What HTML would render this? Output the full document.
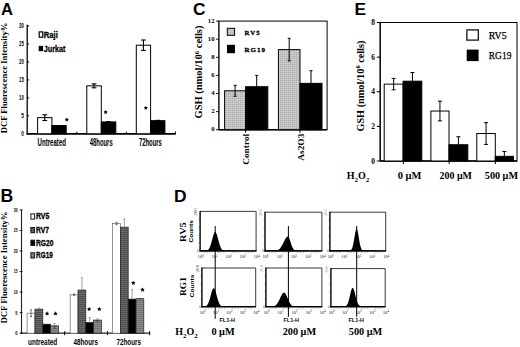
<!DOCTYPE html>
<html><head><meta charset="utf-8"><title>Figure</title>
<style>html,body{margin:0;padding:0;background:#fff;} svg{display:block;}</style>
</head><body>
<svg width="520" height="347" viewBox="0 0 520 347">
<defs>
<pattern id="pc" width="2" height="2" patternUnits="userSpaceOnUse"><rect width="2" height="2" fill="#c9c9c9"/><rect width="1" height="1" fill="#a9a9a9"/></pattern>
<pattern id="p7" width="2" height="2" patternUnits="userSpaceOnUse"><rect width="2" height="2" fill="#6a6a6a"/><rect width="2" height="1" fill="#4e4e4e"/></pattern>
<pattern id="p19" width="2" height="2" patternUnits="userSpaceOnUse"><rect width="2" height="2" fill="#8e8e8e"/><rect width="2" height="1" fill="#727272"/></pattern>
</defs>
<rect x="0" y="0" width="520" height="347" fill="#fff"/>
<text x="0.90" y="14.60" font-family='"Liberation Sans", sans-serif' font-weight="bold" font-size="16.6" text-anchor="start" fill="#000" >A</text>
<text x="7.00" y="133.20" font-family='"Liberation Serif", serif' font-weight="bold" font-size="8.2" text-anchor="start" fill="#000" textLength="110.60" lengthAdjust="spacingAndGlyphs" transform="rotate(-90 7.00 133.20)" >DCF Fluorescence Intensity%</text>
<line x1="27.20" y1="24.80" x2="27.20" y2="134.40" stroke="#000" stroke-width="1.3" />
<line x1="26.60" y1="133.80" x2="175.80" y2="133.80" stroke="#000" stroke-width="1.7" />
<line x1="27.20" y1="133.80" x2="29.20" y2="133.80" stroke="#000" stroke-width="1" />
<text x="23.80" y="136.20" font-family='"Liberation Sans", sans-serif' font-weight="bold" font-size="6.8" text-anchor="end" fill="#000" textLength="2.60" lengthAdjust="spacingAndGlyphs" >0</text>
<line x1="27.20" y1="115.83" x2="29.20" y2="115.83" stroke="#000" stroke-width="1" />
<text x="23.80" y="118.23" font-family='"Liberation Sans", sans-serif' font-weight="bold" font-size="6.8" text-anchor="end" fill="#000" textLength="2.60" lengthAdjust="spacingAndGlyphs" >5</text>
<line x1="27.20" y1="97.87" x2="29.20" y2="97.87" stroke="#000" stroke-width="1" />
<text x="23.80" y="100.27" font-family='"Liberation Sans", sans-serif' font-weight="bold" font-size="6.8" text-anchor="end" fill="#000" textLength="4.80" lengthAdjust="spacingAndGlyphs" >10</text>
<line x1="27.20" y1="79.90" x2="29.20" y2="79.90" stroke="#000" stroke-width="1" />
<text x="23.80" y="82.30" font-family='"Liberation Sans", sans-serif' font-weight="bold" font-size="6.8" text-anchor="end" fill="#000" textLength="4.80" lengthAdjust="spacingAndGlyphs" >15</text>
<line x1="27.20" y1="61.93" x2="29.20" y2="61.93" stroke="#000" stroke-width="1" />
<text x="23.80" y="64.33" font-family='"Liberation Sans", sans-serif' font-weight="bold" font-size="6.8" text-anchor="end" fill="#000" textLength="4.80" lengthAdjust="spacingAndGlyphs" >20</text>
<line x1="27.20" y1="43.97" x2="29.20" y2="43.97" stroke="#000" stroke-width="1" />
<text x="23.80" y="46.37" font-family='"Liberation Sans", sans-serif' font-weight="bold" font-size="6.8" text-anchor="end" fill="#000" textLength="4.80" lengthAdjust="spacingAndGlyphs" >25</text>
<line x1="27.20" y1="26.00" x2="29.20" y2="26.00" stroke="#000" stroke-width="1" />
<text x="23.80" y="28.40" font-family='"Liberation Sans", sans-serif' font-weight="bold" font-size="6.8" text-anchor="end" fill="#000" textLength="4.80" lengthAdjust="spacingAndGlyphs" >30</text>
<line x1="76.80" y1="131.80" x2="76.80" y2="133.80" stroke="#000" stroke-width="1" />
<line x1="126.30" y1="131.80" x2="126.30" y2="133.80" stroke="#000" stroke-width="1" />
<line x1="175.40" y1="131.40" x2="175.40" y2="133.80" stroke="#000" stroke-width="1" />
<rect x="39.20" y="31.90" width="3.60" height="5.30" fill="#fff" stroke="#000" stroke-width="1.2" />
<text x="43.80" y="37.80" font-family='"Liberation Sans", sans-serif' font-weight="bold" font-size="9.2" text-anchor="start" fill="#000" textLength="14.00" lengthAdjust="spacingAndGlyphs" stroke="#000" stroke-width="0.3">Raji</text>
<rect x="38.70" y="45.90" width="4.40" height="5.30" fill="#000" stroke="none" stroke-width="0" />
<text x="43.80" y="51.80" font-family='"Liberation Sans", sans-serif' font-weight="bold" font-size="9.2" text-anchor="start" fill="#000" textLength="21.60" lengthAdjust="spacingAndGlyphs" stroke="#000" stroke-width="0.3">Jurkat</text>
<rect x="37.60" y="117.63" width="14.30" height="16.17" fill="#fff" stroke="#000" stroke-width="1.0" />
<line x1="44.75" y1="114.76" x2="44.75" y2="120.50" stroke="#000" stroke-width="1.1" />
<line x1="42.35" y1="114.76" x2="47.15" y2="114.76" stroke="#000" stroke-width="1.1" />
<line x1="42.35" y1="120.50" x2="47.15" y2="120.50" stroke="#000" stroke-width="1.1" />
<rect x="51.90" y="125.54" width="14.30" height="8.26" fill="#000" stroke="#000" stroke-width="1.0" />
<rect x="86.80" y="85.83" width="14.50" height="47.97" fill="#fff" stroke="#000" stroke-width="1.0" />
<line x1="94.05" y1="83.85" x2="94.05" y2="87.81" stroke="#000" stroke-width="1.1" />
<line x1="91.65" y1="83.85" x2="96.45" y2="83.85" stroke="#000" stroke-width="1.1" />
<line x1="91.65" y1="87.81" x2="96.45" y2="87.81" stroke="#000" stroke-width="1.1" />
<rect x="101.30" y="121.94" width="14.50" height="11.86" fill="#000" stroke="#000" stroke-width="1.0" />
<line x1="108.55" y1="121.58" x2="108.55" y2="122.30" stroke="#000" stroke-width="1.1" />
<line x1="106.15" y1="121.58" x2="110.95" y2="121.58" stroke="#000" stroke-width="1.1" />
<line x1="106.15" y1="122.30" x2="110.95" y2="122.30" stroke="#000" stroke-width="1.1" />
<rect x="136.30" y="45.22" width="14.30" height="88.58" fill="#fff" stroke="#000" stroke-width="1.0" />
<line x1="143.45" y1="40.01" x2="143.45" y2="50.43" stroke="#000" stroke-width="1.1" />
<line x1="141.05" y1="40.01" x2="145.85" y2="40.01" stroke="#000" stroke-width="1.1" />
<line x1="141.05" y1="50.43" x2="145.85" y2="50.43" stroke="#000" stroke-width="1.1" />
<rect x="150.60" y="120.68" width="14.30" height="13.12" fill="#000" stroke="#000" stroke-width="1.0" />
<line x1="157.75" y1="120.33" x2="157.75" y2="121.04" stroke="#000" stroke-width="1.1" />
<line x1="155.35" y1="120.33" x2="160.15" y2="120.33" stroke="#000" stroke-width="1.1" />
<line x1="155.35" y1="121.04" x2="160.15" y2="121.04" stroke="#000" stroke-width="1.1" />
<polygon points="66.80,117.50 67.45,118.81 68.89,119.02 67.85,120.04 68.09,121.48 66.80,120.80 65.51,121.48 65.75,120.04 64.71,119.02 66.15,118.81" fill="#000"/>
<polygon points="105.60,110.00 106.25,111.31 107.69,111.52 106.65,112.54 106.89,113.98 105.60,113.30 104.31,113.98 104.55,112.54 103.51,111.52 104.95,111.31" fill="#000"/>
<polygon points="145.80,105.70 146.45,107.01 147.89,107.22 146.85,108.24 147.09,109.68 145.80,109.00 144.51,109.68 144.75,108.24 143.71,107.22 145.15,107.01" fill="#000"/>
<text x="51.80" y="145.60" font-family='"Liberation Sans", sans-serif' font-weight="bold" font-size="10.2" text-anchor="middle" fill="#000" textLength="28.40" lengthAdjust="spacingAndGlyphs" >Untreated</text>
<text x="101.20" y="145.60" font-family='"Liberation Sans", sans-serif' font-weight="bold" font-size="10.2" text-anchor="middle" fill="#000" textLength="23.00" lengthAdjust="spacingAndGlyphs" >48hours</text>
<text x="150.40" y="145.60" font-family='"Liberation Sans", sans-serif' font-weight="bold" font-size="10.2" text-anchor="middle" fill="#000" textLength="23.00" lengthAdjust="spacingAndGlyphs" >72hours</text>
<text x="0.50" y="201.50" font-family='"Liberation Sans", sans-serif' font-weight="bold" font-size="17.6" text-anchor="start" fill="#000" >B</text>
<text x="7.30" y="323.60" font-family='"Liberation Serif", serif' font-weight="bold" font-size="8.2" text-anchor="start" fill="#000" textLength="112.00" lengthAdjust="spacingAndGlyphs" transform="rotate(-90 7.30 323.60)" >DCF Fluorescence Intensity%</text>
<line x1="21.50" y1="209.80" x2="21.50" y2="333.80" stroke="#222" stroke-width="1.1" />
<line x1="20.60" y1="333.20" x2="149.90" y2="333.20" stroke="#222" stroke-width="1.2" />
<line x1="19.70" y1="333.20" x2="22.40" y2="333.20" stroke="#000" stroke-width="0.9" />
<text x="17.60" y="335.10" font-family='"Liberation Sans", sans-serif' font-weight="bold" font-size="5.6" text-anchor="end" fill="#000" textLength="2.30" lengthAdjust="spacingAndGlyphs" >0</text>
<line x1="19.70" y1="312.65" x2="22.40" y2="312.65" stroke="#000" stroke-width="0.9" />
<text x="17.60" y="314.55" font-family='"Liberation Sans", sans-serif' font-weight="bold" font-size="5.6" text-anchor="end" fill="#000" textLength="2.30" lengthAdjust="spacingAndGlyphs" >5</text>
<line x1="19.70" y1="292.10" x2="22.40" y2="292.10" stroke="#000" stroke-width="0.9" />
<text x="17.60" y="294.00" font-family='"Liberation Sans", sans-serif' font-weight="bold" font-size="5.6" text-anchor="end" fill="#000" textLength="3.90" lengthAdjust="spacingAndGlyphs" >10</text>
<line x1="19.70" y1="271.55" x2="22.40" y2="271.55" stroke="#000" stroke-width="0.9" />
<text x="17.60" y="273.45" font-family='"Liberation Sans", sans-serif' font-weight="bold" font-size="5.6" text-anchor="end" fill="#000" textLength="3.90" lengthAdjust="spacingAndGlyphs" >15</text>
<line x1="19.70" y1="251.00" x2="22.40" y2="251.00" stroke="#000" stroke-width="0.9" />
<text x="17.60" y="252.90" font-family='"Liberation Sans", sans-serif' font-weight="bold" font-size="5.6" text-anchor="end" fill="#000" textLength="3.90" lengthAdjust="spacingAndGlyphs" >20</text>
<line x1="19.70" y1="230.45" x2="22.40" y2="230.45" stroke="#000" stroke-width="0.9" />
<text x="17.60" y="232.35" font-family='"Liberation Sans", sans-serif' font-weight="bold" font-size="5.6" text-anchor="end" fill="#000" textLength="3.90" lengthAdjust="spacingAndGlyphs" >25</text>
<line x1="19.70" y1="209.90" x2="22.40" y2="209.90" stroke="#000" stroke-width="0.9" />
<text x="17.60" y="211.80" font-family='"Liberation Sans", sans-serif' font-weight="bold" font-size="5.6" text-anchor="end" fill="#000" textLength="3.90" lengthAdjust="spacingAndGlyphs" >30</text>
<line x1="64.70" y1="331.20" x2="64.70" y2="335.20" stroke="#000" stroke-width="1" />
<line x1="107.40" y1="331.20" x2="107.40" y2="335.20" stroke="#000" stroke-width="1" />
<line x1="149.70" y1="331.20" x2="149.70" y2="335.20" stroke="#000" stroke-width="1" />
<rect x="30.90" y="213.90" width="3.70" height="5.20" fill="#fff" stroke="#111" stroke-width="1.0" />
<text x="36.00" y="219.10" font-family='"Liberation Sans", sans-serif' font-weight="bold" font-size="8.6" text-anchor="start" fill="#000" textLength="13.20" lengthAdjust="spacingAndGlyphs" stroke="#000" stroke-width="0.3">RV5</text>
<rect x="30.90" y="227.50" width="3.70" height="5.20" fill="url(#p7)" stroke="#111" stroke-width="1.0" />
<text x="36.00" y="233.00" font-family='"Liberation Sans", sans-serif' font-weight="bold" font-size="8.6" text-anchor="start" fill="#000" textLength="13.00" lengthAdjust="spacingAndGlyphs" stroke="#000" stroke-width="0.3">RV7</text>
<rect x="30.90" y="240.20" width="3.70" height="5.20" fill="#000" stroke="#111" stroke-width="1.0" />
<text x="36.00" y="245.80" font-family='"Liberation Sans", sans-serif' font-weight="bold" font-size="8.6" text-anchor="start" fill="#000" textLength="17.40" lengthAdjust="spacingAndGlyphs" stroke="#000" stroke-width="0.3">RG20</text>
<rect x="30.90" y="252.80" width="3.70" height="5.20" fill="url(#p19)" stroke="#111" stroke-width="1.0" />
<text x="36.00" y="258.30" font-family='"Liberation Sans", sans-serif' font-weight="bold" font-size="8.6" text-anchor="start" fill="#000" textLength="16.80" lengthAdjust="spacingAndGlyphs" stroke="#000" stroke-width="0.3">RG19</text>
<rect x="27.10" y="313.18" width="7.85" height="20.02" fill="#fff" stroke="#666" stroke-width="0.7" />
<line x1="31.03" y1="309.90" x2="31.03" y2="313.18" stroke="#555" stroke-width="0.8" />
<line x1="30.03" y1="309.90" x2="32.03" y2="309.90" stroke="#555" stroke-width="0.8" />
<line x1="31.03" y1="313.18" x2="31.03" y2="316.47" stroke="#444" stroke-width="0.8" />
<line x1="30.03" y1="316.47" x2="32.03" y2="316.47" stroke="#444" stroke-width="0.8" />
<rect x="34.95" y="309.16" width="7.85" height="24.04" fill="url(#p7)" stroke="#222" stroke-width="0.7" />
<line x1="38.88" y1="307.92" x2="38.88" y2="309.16" stroke="#888" stroke-width="0.8" />
<line x1="37.88" y1="307.92" x2="39.88" y2="307.92" stroke="#888" stroke-width="0.8" />
<rect x="42.80" y="324.16" width="7.85" height="9.04" fill="#000" stroke="#222" stroke-width="0.7" />
<rect x="50.65" y="325.80" width="7.85" height="7.40" fill="url(#p19)" stroke="#222" stroke-width="0.7" />
<line x1="54.58" y1="323.34" x2="54.58" y2="325.80" stroke="#888" stroke-width="0.8" />
<line x1="53.58" y1="323.34" x2="55.58" y2="323.34" stroke="#888" stroke-width="0.8" />
<line x1="54.58" y1="325.80" x2="54.58" y2="328.27" stroke="#333" stroke-width="0.8" />
<line x1="53.58" y1="328.27" x2="55.58" y2="328.27" stroke="#333" stroke-width="0.8" />
<rect x="70.20" y="294.77" width="7.80" height="38.43" fill="#fff" stroke="#666" stroke-width="0.7" />
<line x1="74.10" y1="293.95" x2="74.10" y2="294.77" stroke="#555" stroke-width="0.8" />
<line x1="73.10" y1="293.95" x2="75.10" y2="293.95" stroke="#555" stroke-width="0.8" />
<line x1="74.10" y1="294.77" x2="74.10" y2="295.59" stroke="#444" stroke-width="0.8" />
<line x1="73.10" y1="295.59" x2="75.10" y2="295.59" stroke="#444" stroke-width="0.8" />
<rect x="78.00" y="290.05" width="7.80" height="43.15" fill="url(#p7)" stroke="#222" stroke-width="0.7" />
<line x1="81.90" y1="277.71" x2="81.90" y2="290.05" stroke="#888" stroke-width="0.8" />
<line x1="80.90" y1="277.71" x2="82.90" y2="277.71" stroke="#888" stroke-width="0.8" />
<rect x="85.80" y="322.51" width="7.80" height="10.69" fill="#000" stroke="#222" stroke-width="0.7" />
<line x1="89.70" y1="317.58" x2="89.70" y2="322.51" stroke="#888" stroke-width="0.8" />
<line x1="88.70" y1="317.58" x2="90.70" y2="317.58" stroke="#888" stroke-width="0.8" />
<rect x="93.60" y="320.05" width="7.80" height="13.15" fill="url(#p19)" stroke="#222" stroke-width="0.7" />
<line x1="97.50" y1="318.81" x2="97.50" y2="320.05" stroke="#888" stroke-width="0.8" />
<line x1="96.50" y1="318.81" x2="98.50" y2="318.81" stroke="#888" stroke-width="0.8" />
<line x1="97.50" y1="320.05" x2="97.50" y2="321.28" stroke="#333" stroke-width="0.8" />
<line x1="96.50" y1="321.28" x2="98.50" y2="321.28" stroke="#333" stroke-width="0.8" />
<rect x="112.60" y="223.46" width="7.80" height="109.74" fill="#fff" stroke="#666" stroke-width="0.7" />
<line x1="116.50" y1="222.23" x2="116.50" y2="223.46" stroke="#555" stroke-width="0.8" />
<line x1="115.50" y1="222.23" x2="117.50" y2="222.23" stroke="#555" stroke-width="0.8" />
<line x1="116.50" y1="223.46" x2="116.50" y2="224.70" stroke="#444" stroke-width="0.8" />
<line x1="115.50" y1="224.70" x2="117.50" y2="224.70" stroke="#444" stroke-width="0.8" />
<rect x="120.40" y="227.16" width="7.80" height="106.04" fill="url(#p7)" stroke="#222" stroke-width="0.7" />
<line x1="124.30" y1="218.94" x2="124.30" y2="227.16" stroke="#888" stroke-width="0.8" />
<line x1="123.30" y1="218.94" x2="125.30" y2="218.94" stroke="#888" stroke-width="0.8" />
<rect x="128.20" y="299.09" width="7.80" height="34.11" fill="#000" stroke="#222" stroke-width="0.7" />
<line x1="132.10" y1="289.63" x2="132.10" y2="299.09" stroke="#888" stroke-width="0.8" />
<line x1="131.10" y1="289.63" x2="133.10" y2="289.63" stroke="#888" stroke-width="0.8" />
<rect x="136.00" y="298.68" width="7.80" height="34.52" fill="url(#p19)" stroke="#222" stroke-width="0.7" />
<line x1="139.90" y1="298.26" x2="139.90" y2="298.68" stroke="#888" stroke-width="0.8" />
<line x1="138.90" y1="298.26" x2="140.90" y2="298.26" stroke="#888" stroke-width="0.8" />
<line x1="139.90" y1="298.68" x2="139.90" y2="299.09" stroke="#333" stroke-width="0.8" />
<line x1="138.90" y1="299.09" x2="140.90" y2="299.09" stroke="#333" stroke-width="0.8" />
<polygon points="47.10,311.30 47.78,312.67 49.29,312.89 48.19,313.96 48.45,315.46 47.10,314.75 45.75,315.46 46.01,313.96 44.91,312.89 46.42,312.67" fill="#000"/>
<polygon points="55.50,311.30 56.18,312.67 57.69,312.89 56.59,313.96 56.85,315.46 55.50,314.75 54.15,315.46 54.41,313.96 53.31,312.89 54.82,312.67" fill="#000"/>
<polygon points="89.10,306.90 89.78,308.27 91.29,308.49 90.19,309.56 90.45,311.06 89.10,310.35 87.75,311.06 88.01,309.56 86.91,308.49 88.42,308.27" fill="#000"/>
<polygon points="99.30,306.90 99.98,308.27 101.49,308.49 100.39,309.56 100.65,311.06 99.30,310.35 97.95,311.06 98.21,309.56 97.11,308.49 98.62,308.27" fill="#000"/>
<polygon points="133.30,280.70 133.98,282.07 135.49,282.29 134.39,283.36 134.65,284.86 133.30,284.15 131.95,284.86 132.21,283.36 131.11,282.29 132.62,282.07" fill="#000"/>
<polygon points="142.50,287.50 143.18,288.87 144.69,289.09 143.59,290.16 143.85,291.66 142.50,290.95 141.15,291.66 141.41,290.16 140.31,289.09 141.82,288.87" fill="#000"/>
<text x="42.70" y="344.70" font-family='"Liberation Sans", sans-serif' font-weight="bold" font-size="8.2" text-anchor="middle" fill="#000" textLength="29.20" lengthAdjust="spacingAndGlyphs" >untreated</text>
<text x="85.70" y="344.70" font-family='"Liberation Sans", sans-serif' font-weight="bold" font-size="8.2" text-anchor="middle" fill="#000" textLength="24.40" lengthAdjust="spacingAndGlyphs" >48hours</text>
<text x="128.70" y="344.70" font-family='"Liberation Sans", sans-serif' font-weight="bold" font-size="8.2" text-anchor="middle" fill="#000" textLength="24.40" lengthAdjust="spacingAndGlyphs" >72hours</text>
<text x="193.10" y="14.60" font-family='"Liberation Sans", sans-serif' font-weight="bold" font-size="17.4" text-anchor="start" fill="#000" >C</text>
<rect x="218.80" y="21.10" width="108.30" height="108.60" fill="none" stroke="#000" stroke-width="1.0" />
<line x1="218.80" y1="21.10" x2="218.80" y2="129.70" stroke="#333" stroke-width="1.4" />
<line x1="218.80" y1="129.70" x2="327.10" y2="129.70" stroke="#000" stroke-width="1.4" />
<line x1="216.20" y1="129.70" x2="218.80" y2="129.70" stroke="#000" stroke-width="1" />
<text x="214.60" y="131.20" font-family='"Liberation Serif", serif' font-weight="bold" font-size="6.8" text-anchor="end" fill="#000" >0</text>
<line x1="216.20" y1="111.60" x2="218.80" y2="111.60" stroke="#000" stroke-width="1" />
<text x="214.60" y="113.10" font-family='"Liberation Serif", serif' font-weight="bold" font-size="6.8" text-anchor="end" fill="#000" >2</text>
<line x1="216.20" y1="93.50" x2="218.80" y2="93.50" stroke="#000" stroke-width="1" />
<text x="214.60" y="95.00" font-family='"Liberation Serif", serif' font-weight="bold" font-size="6.8" text-anchor="end" fill="#000" >4</text>
<line x1="216.20" y1="75.40" x2="218.80" y2="75.40" stroke="#000" stroke-width="1" />
<text x="214.60" y="76.90" font-family='"Liberation Serif", serif' font-weight="bold" font-size="6.8" text-anchor="end" fill="#000" >6</text>
<line x1="216.20" y1="57.30" x2="218.80" y2="57.30" stroke="#000" stroke-width="1" />
<text x="214.60" y="58.80" font-family='"Liberation Serif", serif' font-weight="bold" font-size="6.8" text-anchor="end" fill="#000" >8</text>
<line x1="216.20" y1="39.20" x2="218.80" y2="39.20" stroke="#000" stroke-width="1" />
<text x="214.60" y="40.70" font-family='"Liberation Serif", serif' font-weight="bold" font-size="6.8" text-anchor="end" fill="#000" >10</text>
<line x1="216.20" y1="21.10" x2="218.80" y2="21.10" stroke="#000" stroke-width="1" />
<text x="214.60" y="22.60" font-family='"Liberation Serif", serif' font-weight="bold" font-size="6.8" text-anchor="end" fill="#000" >12</text>
<text x="202.20" y="118.40" font-family='"Liberation Serif", serif' font-weight="bold" font-size="10.2" text-anchor="start" fill="#000" textLength="92.80" lengthAdjust="spacingAndGlyphs" transform="rotate(-90 202.20 118.40)" >GSH (nmol/10<tspan font-size="6.4" dy="-3.4">6</tspan><tspan dy="3.4"> cells)</tspan></text>
<rect x="227.30" y="28.30" width="7.30" height="7.00" fill="url(#pc)" stroke="#000" stroke-width="1.0" />
<text x="244.60" y="35.00" font-family='"Liberation Serif", serif' font-weight="bold" font-size="6.8" text-anchor="start" fill="#000" textLength="15.00" lengthAdjust="spacing" stroke="#000" stroke-width="0.3">RV5</text>
<rect x="227.00" y="44.80" width="8.00" height="8.40" fill="#000" stroke="none" stroke-width="0" />
<text x="244.60" y="51.60" font-family='"Liberation Serif", serif' font-weight="bold" font-size="7.0" text-anchor="start" fill="#000" textLength="20.40" lengthAdjust="spacing" stroke="#000" stroke-width="0.3">RG19</text>
<rect x="224.60" y="90.78" width="21.00" height="38.91" fill="url(#pc)" stroke="#000" stroke-width="1.0" />
<line x1="235.10" y1="85.35" x2="235.10" y2="96.22" stroke="#000" stroke-width="1.0" />
<line x1="233.60" y1="85.35" x2="236.60" y2="85.35" stroke="#000" stroke-width="1.0" />
<line x1="233.60" y1="96.22" x2="236.60" y2="96.22" stroke="#000" stroke-width="1.0" />
<rect x="245.60" y="86.71" width="22.20" height="42.99" fill="#000" stroke="#000" stroke-width="1.0" />
<line x1="256.70" y1="75.40" x2="256.70" y2="98.02" stroke="#000" stroke-width="1.0" />
<line x1="255.20" y1="75.40" x2="258.20" y2="75.40" stroke="#000" stroke-width="1.0" />
<line x1="255.20" y1="98.02" x2="258.20" y2="98.02" stroke="#000" stroke-width="1.0" />
<rect x="278.40" y="49.61" width="21.60" height="80.09" fill="url(#pc)" stroke="#000" stroke-width="1.0" />
<line x1="289.20" y1="38.30" x2="289.20" y2="60.92" stroke="#000" stroke-width="1.0" />
<line x1="287.70" y1="38.30" x2="290.70" y2="38.30" stroke="#000" stroke-width="1.0" />
<line x1="287.70" y1="60.92" x2="290.70" y2="60.92" stroke="#000" stroke-width="1.0" />
<rect x="300.00" y="83.36" width="22.00" height="46.34" fill="#000" stroke="#000" stroke-width="1.0" />
<line x1="311.00" y1="70.69" x2="311.00" y2="96.03" stroke="#000" stroke-width="1.0" />
<line x1="309.50" y1="70.69" x2="312.50" y2="70.69" stroke="#000" stroke-width="1.0" />
<line x1="309.50" y1="96.03" x2="312.50" y2="96.03" stroke="#000" stroke-width="1.0" />
<line x1="245.60" y1="129.70" x2="245.60" y2="132.70" stroke="#000" stroke-width="1" />
<line x1="300.00" y1="129.70" x2="300.00" y2="132.70" stroke="#000" stroke-width="1" />
<text x="249.20" y="164.80" font-family='"Liberation Serif", serif' font-weight="bold" font-size="8.6" text-anchor="start" fill="#000" textLength="31.00" lengthAdjust="spacingAndGlyphs" transform="rotate(-90 249.20 164.80)" >Control</text>
<text x="303.80" y="160.80" font-family='"Liberation Serif", serif' font-weight="bold" font-size="8.6" text-anchor="start" fill="#000" textLength="27.20" lengthAdjust="spacingAndGlyphs" transform="rotate(-90 303.80 160.80)" >As2O3</text>
<text x="354.60" y="14.60" font-family='"Liberation Sans", sans-serif' font-weight="bold" font-size="17.4" text-anchor="start" fill="#000" >E</text>
<rect x="380.20" y="22.50" width="136.80" height="138.50" fill="none" stroke="#000" stroke-width="1.0" />
<line x1="380.20" y1="22.50" x2="380.20" y2="161.00" stroke="#000" stroke-width="1.15" />
<line x1="380.20" y1="161.00" x2="517.00" y2="161.00" stroke="#000" stroke-width="1.4" />
<line x1="376.80" y1="161.00" x2="380.20" y2="161.00" stroke="#000" stroke-width="1" />
<text x="375.00" y="163.50" font-family='"Liberation Serif", serif' font-weight="bold" font-size="7.4" text-anchor="end" fill="#000" >0</text>
<line x1="376.80" y1="126.38" x2="380.20" y2="126.38" stroke="#000" stroke-width="1" />
<text x="375.00" y="128.88" font-family='"Liberation Serif", serif' font-weight="bold" font-size="7.4" text-anchor="end" fill="#000" >2</text>
<line x1="376.80" y1="91.75" x2="380.20" y2="91.75" stroke="#000" stroke-width="1" />
<text x="375.00" y="94.25" font-family='"Liberation Serif", serif' font-weight="bold" font-size="7.4" text-anchor="end" fill="#000" >4</text>
<line x1="376.80" y1="57.12" x2="380.20" y2="57.12" stroke="#000" stroke-width="1" />
<text x="375.00" y="59.62" font-family='"Liberation Serif", serif' font-weight="bold" font-size="7.4" text-anchor="end" fill="#000" >6</text>
<line x1="376.80" y1="22.50" x2="380.20" y2="22.50" stroke="#000" stroke-width="1" />
<text x="375.00" y="25.00" font-family='"Liberation Serif", serif' font-weight="bold" font-size="7.4" text-anchor="end" fill="#000" >8</text>
<text x="363.80" y="131.60" font-family='"Liberation Serif", serif' font-weight="bold" font-size="9.9" text-anchor="start" fill="#000" textLength="91.00" lengthAdjust="spacingAndGlyphs" transform="rotate(-90 363.80 131.60)" >GSH (nmol/10<tspan font-size="6.2" dy="-3.3">6</tspan><tspan dy="3.3"> cells)</tspan></text>
<rect x="466.90" y="29.90" width="11.40" height="10.20" fill="#fff" stroke="#000" stroke-width="1.2" />
<text x="488.80" y="38.90" font-family='"Liberation Serif", serif' font-weight="normal" font-size="10.4" text-anchor="start" fill="#000" textLength="17.80" lengthAdjust="spacingAndGlyphs" stroke="#000" stroke-width="0.25">RV5</text>
<rect x="466.70" y="49.60" width="11.90" height="11.50" fill="#000" stroke="none" stroke-width="0" />
<text x="488.80" y="58.90" font-family='"Liberation Serif", serif' font-weight="normal" font-size="10.4" text-anchor="start" fill="#000" textLength="22.60" lengthAdjust="spacingAndGlyphs" stroke="#000" stroke-width="0.25">RG19</text>
<rect x="384.20" y="84.13" width="18.90" height="76.87" fill="#fff" stroke="#000" stroke-width="1.0" />
<line x1="393.65" y1="78.42" x2="393.65" y2="89.85" stroke="#000" stroke-width="1" />
<line x1="391.65" y1="78.42" x2="395.65" y2="78.42" stroke="#000" stroke-width="1" />
<line x1="391.65" y1="89.85" x2="395.65" y2="89.85" stroke="#000" stroke-width="1" />
<rect x="403.10" y="81.19" width="18.70" height="79.81" fill="#000" stroke="#000" stroke-width="1.0" />
<line x1="412.45" y1="72.53" x2="412.45" y2="89.85" stroke="#000" stroke-width="1" />
<line x1="410.45" y1="72.53" x2="414.45" y2="72.53" stroke="#000" stroke-width="1" />
<line x1="410.45" y1="89.85" x2="414.45" y2="89.85" stroke="#000" stroke-width="1" />
<rect x="430.90" y="111.04" width="18.10" height="49.96" fill="#fff" stroke="#000" stroke-width="1.0" />
<line x1="439.95" y1="101.17" x2="439.95" y2="120.90" stroke="#000" stroke-width="1" />
<line x1="437.95" y1="101.17" x2="441.95" y2="101.17" stroke="#000" stroke-width="1" />
<line x1="437.95" y1="120.90" x2="441.95" y2="120.90" stroke="#000" stroke-width="1" />
<rect x="449.00" y="144.73" width="18.80" height="16.27" fill="#000" stroke="#000" stroke-width="1.0" />
<line x1="458.40" y1="136.76" x2="458.40" y2="144.73" stroke="#000" stroke-width="1" />
<line x1="456.40" y1="136.76" x2="460.40" y2="136.76" stroke="#000" stroke-width="1" />
<rect x="476.80" y="133.53" width="18.50" height="27.47" fill="#fff" stroke="#000" stroke-width="1.0" />
<line x1="486.05" y1="122.62" x2="486.05" y2="144.43" stroke="#000" stroke-width="1" />
<line x1="484.05" y1="122.62" x2="488.05" y2="122.62" stroke="#000" stroke-width="1" />
<line x1="484.05" y1="144.43" x2="488.05" y2="144.43" stroke="#000" stroke-width="1" />
<rect x="495.30" y="156.33" width="18.10" height="4.67" fill="#000" stroke="#000" stroke-width="1.0" />
<line x1="504.35" y1="151.48" x2="504.35" y2="156.33" stroke="#000" stroke-width="1" />
<line x1="502.35" y1="151.48" x2="506.35" y2="151.48" stroke="#000" stroke-width="1" />
<line x1="403.40" y1="161.00" x2="403.40" y2="164.00" stroke="#000" stroke-width="1" />
<line x1="449.20" y1="161.00" x2="449.20" y2="164.00" stroke="#000" stroke-width="1" />
<line x1="495.40" y1="161.00" x2="495.40" y2="164.00" stroke="#000" stroke-width="1" />
<text x="346.80" y="179.00" font-family='"Liberation Serif", serif' font-weight="bold" font-size="10.0" text-anchor="start" fill="#000" >H<tspan font-size="7" dy="2.6">2</tspan><tspan dy="-2.6">O</tspan><tspan font-size="7" dy="2.6">2</tspan></text>
<text x="409.50" y="179.00" font-family='"Liberation Serif", serif' font-weight="bold" font-size="10.0" text-anchor="middle" fill="#000" textLength="23.60" lengthAdjust="spacingAndGlyphs" >0 μM</text>
<text x="455.80" y="179.00" font-family='"Liberation Serif", serif' font-weight="bold" font-size="10.0" text-anchor="middle" fill="#000" textLength="32.40" lengthAdjust="spacingAndGlyphs" >200 μM</text>
<text x="501.40" y="179.00" font-family='"Liberation Serif", serif' font-weight="bold" font-size="10.0" text-anchor="middle" fill="#000" textLength="33.20" lengthAdjust="spacingAndGlyphs" >500 μM</text>
<text x="174.00" y="201.50" font-family='"Liberation Sans", sans-serif' font-weight="bold" font-size="17.4" text-anchor="start" fill="#000" >D</text>
<polygon points="200.10,251.00 200.10,250.10 200.45,250.10 200.80,250.10 201.15,250.10 201.50,250.10 201.85,250.10 202.20,250.10 202.55,250.10 202.90,250.10 203.25,250.10 203.60,250.10 203.95,250.10 204.30,250.10 204.65,250.10 205.00,250.10 205.35,250.10 205.70,250.10 206.05,250.10 206.40,250.10 206.75,250.10 207.10,250.10 207.45,250.10 207.80,250.09 208.15,249.80 208.50,249.43 208.85,248.98 209.20,248.43 209.55,247.77 209.90,247.01 210.25,246.13 210.60,245.14 210.95,244.03 211.30,242.84 211.65,241.57 212.00,240.24 212.35,238.90 212.70,237.57 213.05,236.30 213.40,235.13 213.75,234.09 214.10,233.24 214.45,232.58 214.80,232.17 215.15,232.00 215.50,232.09 215.85,232.44 216.20,233.03 216.55,233.83 216.90,234.82 217.25,235.96 217.60,237.20 217.95,238.52 218.30,239.86 218.65,241.19 219.00,242.48 219.35,243.70 219.70,244.83 220.05,245.86 220.40,246.77 220.75,247.57 221.10,248.25 221.45,248.83 221.80,249.31 222.15,249.70 222.50,250.02 222.85,250.09 223.20,250.10 223.55,250.11 223.90,250.12 224.25,250.13 224.60,250.14 224.95,250.15 225.30,250.16 225.65,250.17 226.00,250.18 226.35,250.18 226.70,250.19 227.05,250.20 227.40,250.21 227.75,250.22 228.10,250.23 228.45,250.24 228.80,250.24 229.15,250.25 229.50,250.26 229.85,250.27 230.20,250.27 230.55,250.28 230.90,250.29 231.25,250.30 231.60,250.30 231.95,250.31 232.30,250.32 232.65,250.32 233.00,250.33 233.35,250.34 233.70,250.34 234.05,250.35 234.40,250.36 234.75,250.36 235.10,250.37 235.45,250.37 235.80,250.38 236.15,250.38 236.50,250.39 236.85,250.40 237.20,250.40 237.55,250.41 237.90,250.41 238.25,250.42 238.60,250.42 238.95,250.43 239.30,250.43 239.65,250.43 240.00,250.44 240.35,250.44 240.70,250.45 241.05,250.45 241.40,250.46 241.75,250.46 242.10,250.47 242.45,250.47 242.80,250.47 243.15,250.48 243.50,250.48 243.85,250.49 244.20,250.49 244.55,250.49 244.90,250.50 245.25,250.50 245.60,250.50 245.95,250.51 246.30,250.51 246.65,250.51 247.00,250.52 247.35,250.52 247.70,250.52 248.05,250.53 248.40,250.53 248.75,250.53 249.10,250.53 249.45,250.54 249.80,250.54 250.15,250.54 250.50,250.55 250.85,250.55 251.20,250.55 251.55,250.55 251.90,250.56 252.25,250.56 252.60,250.56 252.95,250.56 253.30,250.57 253.65,250.57 254.00,250.57 254.35,250.57 254.70,250.58 255.05,250.58 255.40,250.58 255.75,250.58 256.10,250.58 256.10,251.00" fill="#000"/>
<line x1="200.10" y1="211.40" x2="256.10" y2="211.40" stroke="#222" stroke-width="0.9" />
<line x1="256.10" y1="211.40" x2="256.10" y2="251.00" stroke="#222" stroke-width="0.9" />
<line x1="200.10" y1="210.90" x2="200.10" y2="251.60" stroke="#000" stroke-width="1.4" />
<line x1="199.50" y1="251.00" x2="256.50" y2="251.00" stroke="#000" stroke-width="1.4" />
<line x1="198.70" y1="243.08" x2="200.10" y2="243.08" stroke="#333" stroke-width="0.6" />
<line x1="198.70" y1="235.16" x2="200.10" y2="235.16" stroke="#333" stroke-width="0.6" />
<line x1="198.70" y1="227.24" x2="200.10" y2="227.24" stroke="#333" stroke-width="0.6" />
<line x1="198.70" y1="219.32" x2="200.10" y2="219.32" stroke="#333" stroke-width="0.6" />
<text x="200.70" y="258.40" font-family='"Liberation Serif", serif' font-weight="normal" font-size="4.6" text-anchor="middle" fill="#222" >10<tspan font-size="3.2" dy="-1.8">0</tspan></text>
<line x1="204.30" y1="251.60" x2="204.30" y2="253.00" stroke="#666" stroke-width="0.5" />
<line x1="207.10" y1="251.60" x2="207.10" y2="253.00" stroke="#666" stroke-width="0.5" />
<line x1="209.90" y1="251.60" x2="209.90" y2="253.00" stroke="#666" stroke-width="0.5" />
<text x="214.70" y="258.40" font-family='"Liberation Serif", serif' font-weight="normal" font-size="4.6" text-anchor="middle" fill="#222" >10<tspan font-size="3.2" dy="-1.8">1</tspan></text>
<line x1="218.30" y1="251.60" x2="218.30" y2="253.00" stroke="#666" stroke-width="0.5" />
<line x1="221.10" y1="251.60" x2="221.10" y2="253.00" stroke="#666" stroke-width="0.5" />
<line x1="223.90" y1="251.60" x2="223.90" y2="253.00" stroke="#666" stroke-width="0.5" />
<text x="228.70" y="258.40" font-family='"Liberation Serif", serif' font-weight="normal" font-size="4.6" text-anchor="middle" fill="#222" >10<tspan font-size="3.2" dy="-1.8">2</tspan></text>
<line x1="232.30" y1="251.60" x2="232.30" y2="253.00" stroke="#666" stroke-width="0.5" />
<line x1="235.10" y1="251.60" x2="235.10" y2="253.00" stroke="#666" stroke-width="0.5" />
<line x1="237.90" y1="251.60" x2="237.90" y2="253.00" stroke="#666" stroke-width="0.5" />
<text x="242.70" y="258.40" font-family='"Liberation Serif", serif' font-weight="normal" font-size="4.6" text-anchor="middle" fill="#222" >10<tspan font-size="3.2" dy="-1.8">3</tspan></text>
<line x1="246.30" y1="251.60" x2="246.30" y2="253.00" stroke="#666" stroke-width="0.5" />
<line x1="249.10" y1="251.60" x2="249.10" y2="253.00" stroke="#666" stroke-width="0.5" />
<line x1="251.90" y1="251.60" x2="251.90" y2="253.00" stroke="#666" stroke-width="0.5" />
<text x="256.70" y="258.40" font-family='"Liberation Serif", serif' font-weight="normal" font-size="4.6" text-anchor="middle" fill="#222" >10<tspan font-size="3.2" dy="-1.8">4</tspan></text>
<text x="197.10" y="215.80" font-family='"Liberation Serif", serif' font-weight="normal" font-size="4.4" text-anchor="start" fill="#333" textLength="7.60" lengthAdjust="spacingAndGlyphs" transform="rotate(-90 197.10 215.80)" >200</text>
<text x="198.90" y="251.80" font-family='"Liberation Sans", sans-serif' font-weight="normal" font-size="3.2" text-anchor="end" fill="#444" >0</text>
<polygon points="265.00,251.00 265.00,250.10 265.36,250.10 265.71,250.10 266.07,250.10 266.42,250.10 266.78,250.10 267.13,250.10 267.49,250.10 267.85,250.10 268.20,250.10 268.56,250.10 268.91,250.10 269.27,250.10 269.62,250.10 269.98,250.10 270.33,250.10 270.69,250.10 271.05,250.10 271.40,250.10 271.76,250.10 272.11,250.10 272.47,250.10 272.82,250.10 273.18,250.10 273.53,250.10 273.89,250.10 274.25,250.10 274.60,250.10 274.96,250.10 275.31,250.10 275.67,250.10 276.02,250.10 276.38,250.10 276.74,250.10 277.09,250.10 277.45,250.10 277.80,250.10 278.16,249.97 278.51,249.75 278.87,249.50 279.23,249.21 279.58,248.88 279.94,248.50 280.29,248.09 280.65,247.62 281.00,247.11 281.36,246.56 281.71,245.96 282.07,245.32 282.43,244.65 282.78,243.95 283.14,243.23 283.49,242.49 283.85,241.75 284.20,241.02 284.56,240.31 284.91,239.63 285.27,238.99 285.63,238.41 285.98,237.89 286.34,237.45 286.69,237.09 287.05,236.83 287.40,236.66 287.76,236.60 288.12,236.69 288.47,237.01 288.83,237.54 289.18,238.25 289.54,239.12 289.89,240.11 290.25,241.18 290.61,242.28 290.96,243.38 291.32,244.45 291.67,245.46 292.03,246.39 292.38,247.23 292.74,247.96 293.09,248.59 293.45,249.12 293.81,249.56 294.16,249.91 294.52,250.06 294.87,250.07 295.23,250.08 295.58,250.09 295.94,250.10 296.29,250.11 296.65,250.12 297.01,250.13 297.36,250.14 297.72,250.15 298.07,250.16 298.43,250.17 298.78,250.18 299.14,250.19 299.50,250.20 299.85,250.21 300.21,250.22 300.56,250.22 300.92,250.23 301.27,250.24 301.63,250.25 301.99,250.26 302.34,250.26 302.70,250.27 303.05,250.28 303.41,250.29 303.76,250.29 304.12,250.30 304.47,250.31 304.83,250.32 305.19,250.32 305.54,250.33 305.90,250.34 306.25,250.34 306.61,250.35 306.96,250.35 307.32,250.36 307.67,250.37 308.03,250.37 308.39,250.38 308.74,250.38 309.10,250.39 309.45,250.40 309.81,250.40 310.16,250.41 310.52,250.41 310.88,250.42 311.23,250.42 311.59,250.43 311.94,250.43 312.30,250.44 312.65,250.44 313.01,250.44 313.37,250.45 313.72,250.45 314.08,250.46 314.43,250.46 314.79,250.47 315.14,250.47 315.50,250.47 315.85,250.48 316.21,250.48 316.57,250.49 316.92,250.49 317.28,250.49 317.63,250.50 317.99,250.50 318.34,250.50 318.70,250.51 319.05,250.51 319.41,250.51 319.77,250.52 320.12,250.52 320.48,250.52 320.83,250.53 321.19,250.53 321.54,250.53 321.90,250.54 321.90,251.00" fill="#000"/>
<line x1="265.00" y1="212.20" x2="321.90" y2="212.20" stroke="#222" stroke-width="0.9" />
<line x1="321.90" y1="212.20" x2="321.90" y2="251.00" stroke="#222" stroke-width="0.9" />
<line x1="265.00" y1="211.70" x2="265.00" y2="251.60" stroke="#000" stroke-width="1.4" />
<line x1="264.40" y1="251.00" x2="322.30" y2="251.00" stroke="#000" stroke-width="1.4" />
<line x1="263.60" y1="243.24" x2="265.00" y2="243.24" stroke="#333" stroke-width="0.6" />
<line x1="263.60" y1="235.48" x2="265.00" y2="235.48" stroke="#333" stroke-width="0.6" />
<line x1="263.60" y1="227.72" x2="265.00" y2="227.72" stroke="#333" stroke-width="0.6" />
<line x1="263.60" y1="219.96" x2="265.00" y2="219.96" stroke="#333" stroke-width="0.6" />
<text x="265.60" y="258.40" font-family='"Liberation Serif", serif' font-weight="normal" font-size="4.6" text-anchor="middle" fill="#222" >10<tspan font-size="3.2" dy="-1.8">0</tspan></text>
<line x1="269.27" y1="251.60" x2="269.27" y2="253.00" stroke="#666" stroke-width="0.5" />
<line x1="272.11" y1="251.60" x2="272.11" y2="253.00" stroke="#666" stroke-width="0.5" />
<line x1="274.96" y1="251.60" x2="274.96" y2="253.00" stroke="#666" stroke-width="0.5" />
<text x="279.83" y="258.40" font-family='"Liberation Serif", serif' font-weight="normal" font-size="4.6" text-anchor="middle" fill="#222" >10<tspan font-size="3.2" dy="-1.8">1</tspan></text>
<line x1="283.49" y1="251.60" x2="283.49" y2="253.00" stroke="#666" stroke-width="0.5" />
<line x1="286.34" y1="251.60" x2="286.34" y2="253.00" stroke="#666" stroke-width="0.5" />
<line x1="289.18" y1="251.60" x2="289.18" y2="253.00" stroke="#666" stroke-width="0.5" />
<text x="294.05" y="258.40" font-family='"Liberation Serif", serif' font-weight="normal" font-size="4.6" text-anchor="middle" fill="#222" >10<tspan font-size="3.2" dy="-1.8">2</tspan></text>
<line x1="297.72" y1="251.60" x2="297.72" y2="253.00" stroke="#666" stroke-width="0.5" />
<line x1="300.56" y1="251.60" x2="300.56" y2="253.00" stroke="#666" stroke-width="0.5" />
<line x1="303.41" y1="251.60" x2="303.41" y2="253.00" stroke="#666" stroke-width="0.5" />
<text x="308.27" y="258.40" font-family='"Liberation Serif", serif' font-weight="normal" font-size="4.6" text-anchor="middle" fill="#222" >10<tspan font-size="3.2" dy="-1.8">3</tspan></text>
<line x1="311.94" y1="251.60" x2="311.94" y2="253.00" stroke="#666" stroke-width="0.5" />
<line x1="314.79" y1="251.60" x2="314.79" y2="253.00" stroke="#666" stroke-width="0.5" />
<line x1="317.63" y1="251.60" x2="317.63" y2="253.00" stroke="#666" stroke-width="0.5" />
<text x="322.50" y="258.40" font-family='"Liberation Serif", serif' font-weight="normal" font-size="4.6" text-anchor="middle" fill="#222" >10<tspan font-size="3.2" dy="-1.8">4</tspan></text>
<text x="262.00" y="216.60" font-family='"Liberation Serif", serif' font-weight="normal" font-size="4.4" text-anchor="start" fill="#999" textLength="7.60" lengthAdjust="spacingAndGlyphs" transform="rotate(-90 262.00 216.60)" >200</text>
<text x="263.80" y="251.80" font-family='"Liberation Sans", sans-serif' font-weight="normal" font-size="3.2" text-anchor="end" fill="#444" >0</text>
<polygon points="329.90,251.00 329.90,250.10 330.25,250.10 330.60,250.10 330.95,250.10 331.29,250.10 331.64,250.10 331.99,250.10 332.34,250.10 332.69,250.10 333.04,250.10 333.39,250.10 333.74,250.10 334.08,250.10 334.43,250.10 334.78,250.10 335.13,250.10 335.48,250.10 335.83,250.10 336.18,250.10 336.53,250.10 336.88,250.10 337.22,250.10 337.57,250.10 337.92,250.10 338.27,250.10 338.62,250.10 338.97,250.10 339.32,250.10 339.66,250.10 340.01,250.10 340.36,250.10 340.71,250.10 341.06,250.10 341.41,250.10 341.76,250.10 342.11,250.10 342.45,250.10 342.80,250.10 343.15,250.10 343.50,250.10 343.85,250.10 344.20,250.10 344.55,250.10 344.90,250.10 345.25,250.10 345.59,250.10 345.94,250.10 346.29,250.10 346.64,250.10 346.99,250.10 347.34,250.10 347.69,250.10 348.03,250.10 348.38,250.10 348.73,250.10 349.08,250.10 349.43,250.10 349.78,250.10 350.13,250.10 350.48,250.10 350.82,250.10 351.17,249.95 351.52,249.47 351.87,248.82 352.22,247.97 352.57,246.89 352.92,245.58 353.27,244.02 353.62,242.24 353.96,240.27 354.31,238.19 354.66,236.08 355.01,234.06 355.36,232.24 355.71,230.74 356.06,229.66 356.40,229.09 356.75,229.05 357.10,229.57 357.45,230.59 357.80,232.04 358.15,233.83 358.50,235.83 358.85,237.94 359.19,240.03 359.54,242.01 359.89,243.82 360.24,245.41 360.59,246.75 360.94,247.85 361.29,248.73 361.64,249.40 361.99,249.90 362.33,250.02 362.68,250.04 363.03,250.05 363.38,250.06 363.73,250.07 364.08,250.08 364.43,250.09 364.77,250.10 365.12,250.11 365.47,250.12 365.82,250.13 366.17,250.14 366.52,250.15 366.87,250.16 367.22,250.17 367.56,250.18 367.91,250.19 368.26,250.20 368.61,250.21 368.96,250.21 369.31,250.22 369.66,250.23 370.01,250.24 370.35,250.25 370.70,250.26 371.05,250.26 371.40,250.27 371.75,250.28 372.10,250.29 372.45,250.29 372.80,250.30 373.14,250.31 373.49,250.31 373.84,250.32 374.19,250.33 374.54,250.33 374.89,250.34 375.24,250.35 375.59,250.35 375.94,250.36 376.28,250.36 376.63,250.37 376.98,250.38 377.33,250.38 377.68,250.39 378.03,250.39 378.38,250.40 378.72,250.40 379.07,250.41 379.42,250.41 379.77,250.42 380.12,250.42 380.47,250.43 380.82,250.43 381.17,250.44 381.51,250.44 381.86,250.45 382.21,250.45 382.56,250.45 382.91,250.46 383.26,250.46 383.61,250.47 383.96,250.47 384.31,250.47 384.65,250.48 385.00,250.48 385.35,250.49 385.70,250.49 385.70,251.00" fill="#000"/>
<line x1="329.90" y1="212.20" x2="385.70" y2="212.20" stroke="#222" stroke-width="0.9" />
<line x1="385.70" y1="212.20" x2="385.70" y2="251.00" stroke="#222" stroke-width="0.9" />
<line x1="329.90" y1="211.70" x2="329.90" y2="251.60" stroke="#000" stroke-width="1.4" />
<line x1="329.30" y1="251.00" x2="386.10" y2="251.00" stroke="#000" stroke-width="1.4" />
<line x1="328.50" y1="243.24" x2="329.90" y2="243.24" stroke="#333" stroke-width="0.6" />
<line x1="328.50" y1="235.48" x2="329.90" y2="235.48" stroke="#333" stroke-width="0.6" />
<line x1="328.50" y1="227.72" x2="329.90" y2="227.72" stroke="#333" stroke-width="0.6" />
<line x1="328.50" y1="219.96" x2="329.90" y2="219.96" stroke="#333" stroke-width="0.6" />
<text x="330.50" y="258.40" font-family='"Liberation Serif", serif' font-weight="normal" font-size="4.6" text-anchor="middle" fill="#222" >10<tspan font-size="3.2" dy="-1.8">0</tspan></text>
<line x1="334.08" y1="251.60" x2="334.08" y2="253.00" stroke="#666" stroke-width="0.5" />
<line x1="336.88" y1="251.60" x2="336.88" y2="253.00" stroke="#666" stroke-width="0.5" />
<line x1="339.66" y1="251.60" x2="339.66" y2="253.00" stroke="#666" stroke-width="0.5" />
<text x="344.45" y="258.40" font-family='"Liberation Serif", serif' font-weight="normal" font-size="4.6" text-anchor="middle" fill="#222" >10<tspan font-size="3.2" dy="-1.8">1</tspan></text>
<line x1="348.03" y1="251.60" x2="348.03" y2="253.00" stroke="#666" stroke-width="0.5" />
<line x1="350.82" y1="251.60" x2="350.82" y2="253.00" stroke="#666" stroke-width="0.5" />
<line x1="353.62" y1="251.60" x2="353.62" y2="253.00" stroke="#666" stroke-width="0.5" />
<text x="358.40" y="258.40" font-family='"Liberation Serif", serif' font-weight="normal" font-size="4.6" text-anchor="middle" fill="#222" >10<tspan font-size="3.2" dy="-1.8">2</tspan></text>
<line x1="361.98" y1="251.60" x2="361.98" y2="253.00" stroke="#666" stroke-width="0.5" />
<line x1="364.77" y1="251.60" x2="364.77" y2="253.00" stroke="#666" stroke-width="0.5" />
<line x1="367.56" y1="251.60" x2="367.56" y2="253.00" stroke="#666" stroke-width="0.5" />
<text x="372.35" y="258.40" font-family='"Liberation Serif", serif' font-weight="normal" font-size="4.6" text-anchor="middle" fill="#222" >10<tspan font-size="3.2" dy="-1.8">3</tspan></text>
<line x1="375.94" y1="251.60" x2="375.94" y2="253.00" stroke="#666" stroke-width="0.5" />
<line x1="378.72" y1="251.60" x2="378.72" y2="253.00" stroke="#666" stroke-width="0.5" />
<line x1="381.51" y1="251.60" x2="381.51" y2="253.00" stroke="#666" stroke-width="0.5" />
<text x="386.30" y="258.40" font-family='"Liberation Serif", serif' font-weight="normal" font-size="4.6" text-anchor="middle" fill="#222" >10<tspan font-size="3.2" dy="-1.8">4</tspan></text>
<text x="326.90" y="216.60" font-family='"Liberation Serif", serif' font-weight="normal" font-size="4.4" text-anchor="start" fill="#999" textLength="7.60" lengthAdjust="spacingAndGlyphs" transform="rotate(-90 326.90 216.60)" >200</text>
<text x="328.70" y="251.80" font-family='"Liberation Sans", sans-serif' font-weight="normal" font-size="3.2" text-anchor="end" fill="#444" >0</text>
<polygon points="201.90,306.80 201.90,305.90 202.24,305.90 202.57,305.90 202.91,305.90 203.25,305.90 203.58,305.90 203.92,305.90 204.25,305.90 204.59,305.90 204.93,305.90 205.26,305.90 205.60,305.90 205.94,305.90 206.27,305.90 206.61,305.66 206.94,305.33 207.28,304.92 207.62,304.42 207.95,303.83 208.29,303.14 208.62,302.35 208.96,301.46 209.30,300.46 209.63,299.38 209.97,298.21 210.31,296.99 210.64,295.73 210.98,294.47 211.31,293.24 211.65,292.07 211.99,291.00 212.32,290.06 212.66,289.28 213.00,288.70 213.33,288.34 213.67,288.20 214.00,288.30 214.34,288.62 214.68,289.16 215.01,289.90 215.35,290.81 215.69,291.86 216.02,293.02 216.36,294.24 216.69,295.50 217.03,296.76 217.37,297.99 217.70,299.17 218.04,300.27 218.38,301.28 218.71,302.19 219.05,303.00 219.38,303.71 219.72,304.32 220.06,304.83 220.39,305.26 220.73,305.61 221.07,305.88 221.40,305.89 221.74,305.90 222.07,305.91 222.41,305.92 222.75,305.93 223.08,305.94 223.42,305.95 223.76,305.96 224.09,305.96 224.43,305.97 224.76,305.98 225.10,305.99 225.44,306.00 225.77,306.01 226.11,306.02 226.45,306.02 226.78,306.03 227.12,306.04 227.45,306.05 227.79,306.06 228.13,306.06 228.46,306.07 228.80,306.08 229.14,306.08 229.47,306.09 229.81,306.10 230.15,306.10 230.48,306.11 230.82,306.12 231.15,306.12 231.49,306.13 231.83,306.14 232.16,306.14 232.50,306.15 232.84,306.15 233.17,306.16 233.51,306.17 233.84,306.17 234.18,306.18 234.52,306.18 234.85,306.19 235.19,306.19 235.52,306.20 235.86,306.20 236.20,306.21 236.53,306.21 236.87,306.22 237.21,306.22 237.54,306.23 237.88,306.23 238.21,306.24 238.55,306.24 238.89,306.24 239.22,306.25 239.56,306.25 239.90,306.26 240.23,306.26 240.57,306.27 240.91,306.27 241.24,306.27 241.58,306.28 241.91,306.28 242.25,306.28 242.59,306.29 242.92,306.29 243.26,306.29 243.59,306.30 243.93,306.30 244.27,306.30 244.60,306.31 244.94,306.31 245.28,306.31 245.61,306.32 245.95,306.32 246.28,306.32 246.62,306.33 246.96,306.33 247.29,306.33 247.63,306.34 247.97,306.34 248.30,306.34 248.64,306.34 248.97,306.35 249.31,306.35 249.65,306.35 249.98,306.35 250.32,306.36 250.66,306.36 250.99,306.36 251.33,306.36 251.66,306.37 252.00,306.37 252.34,306.37 252.67,306.37 253.01,306.37 253.35,306.38 253.68,306.38 254.02,306.38 254.35,306.38 254.69,306.38 255.03,306.39 255.36,306.39 255.70,306.39 255.70,306.80" fill="#000"/>
<line x1="201.90" y1="268.00" x2="255.70" y2="268.00" stroke="#222" stroke-width="0.9" />
<line x1="255.70" y1="268.00" x2="255.70" y2="306.80" stroke="#222" stroke-width="0.9" />
<line x1="201.90" y1="267.50" x2="201.90" y2="307.40" stroke="#000" stroke-width="1.4" />
<line x1="201.30" y1="306.80" x2="256.10" y2="306.80" stroke="#000" stroke-width="1.4" />
<line x1="200.50" y1="299.04" x2="201.90" y2="299.04" stroke="#333" stroke-width="0.6" />
<line x1="200.50" y1="291.28" x2="201.90" y2="291.28" stroke="#333" stroke-width="0.6" />
<line x1="200.50" y1="283.52" x2="201.90" y2="283.52" stroke="#333" stroke-width="0.6" />
<line x1="200.50" y1="275.76" x2="201.90" y2="275.76" stroke="#333" stroke-width="0.6" />
<text x="202.50" y="314.20" font-family='"Liberation Serif", serif' font-weight="normal" font-size="4.6" text-anchor="middle" fill="#222" >10<tspan font-size="3.2" dy="-1.8">0</tspan></text>
<line x1="205.94" y1="307.40" x2="205.94" y2="308.80" stroke="#666" stroke-width="0.5" />
<line x1="208.62" y1="307.40" x2="208.62" y2="308.80" stroke="#666" stroke-width="0.5" />
<line x1="211.31" y1="307.40" x2="211.31" y2="308.80" stroke="#666" stroke-width="0.5" />
<text x="215.95" y="314.20" font-family='"Liberation Serif", serif' font-weight="normal" font-size="4.6" text-anchor="middle" fill="#222" >10<tspan font-size="3.2" dy="-1.8">1</tspan></text>
<line x1="219.38" y1="307.40" x2="219.38" y2="308.80" stroke="#666" stroke-width="0.5" />
<line x1="222.07" y1="307.40" x2="222.07" y2="308.80" stroke="#666" stroke-width="0.5" />
<line x1="224.76" y1="307.40" x2="224.76" y2="308.80" stroke="#666" stroke-width="0.5" />
<text x="229.40" y="314.20" font-family='"Liberation Serif", serif' font-weight="normal" font-size="4.6" text-anchor="middle" fill="#222" >10<tspan font-size="3.2" dy="-1.8">2</tspan></text>
<line x1="232.83" y1="307.40" x2="232.83" y2="308.80" stroke="#666" stroke-width="0.5" />
<line x1="235.52" y1="307.40" x2="235.52" y2="308.80" stroke="#666" stroke-width="0.5" />
<line x1="238.22" y1="307.40" x2="238.22" y2="308.80" stroke="#666" stroke-width="0.5" />
<text x="242.85" y="314.20" font-family='"Liberation Serif", serif' font-weight="normal" font-size="4.6" text-anchor="middle" fill="#222" >10<tspan font-size="3.2" dy="-1.8">3</tspan></text>
<line x1="246.28" y1="307.40" x2="246.28" y2="308.80" stroke="#666" stroke-width="0.5" />
<line x1="248.97" y1="307.40" x2="248.97" y2="308.80" stroke="#666" stroke-width="0.5" />
<line x1="251.66" y1="307.40" x2="251.66" y2="308.80" stroke="#666" stroke-width="0.5" />
<text x="256.30" y="314.20" font-family='"Liberation Serif", serif' font-weight="normal" font-size="4.6" text-anchor="middle" fill="#222" >10<tspan font-size="3.2" dy="-1.8">4</tspan></text>
<text x="198.90" y="272.40" font-family='"Liberation Serif", serif' font-weight="normal" font-size="4.4" text-anchor="start" fill="#333" textLength="7.60" lengthAdjust="spacingAndGlyphs" transform="rotate(-90 198.90 272.40)" >200</text>
<text x="200.70" y="307.60" font-family='"Liberation Sans", sans-serif' font-weight="normal" font-size="3.2" text-anchor="end" fill="#444" >0</text>
<polygon points="265.90,306.80 265.90,305.90 266.25,305.90 266.60,305.90 266.95,305.90 267.30,305.90 267.65,305.90 268.00,305.90 268.35,305.90 268.70,305.90 269.05,305.90 269.40,305.90 269.75,305.90 270.10,305.90 270.45,305.90 270.80,305.90 271.15,305.90 271.50,305.90 271.85,305.90 272.20,305.90 272.55,305.90 272.90,305.90 273.25,305.90 273.60,305.90 273.95,305.90 274.30,305.90 274.65,305.90 275.00,305.81 275.35,305.59 275.70,305.33 276.05,305.02 276.40,304.67 276.75,304.28 277.10,303.83 277.45,303.33 277.80,302.79 278.15,302.19 278.50,301.55 278.85,300.86 279.20,300.14 279.55,299.39 279.90,298.63 280.25,297.86 280.60,297.09 280.95,296.34 281.30,295.63 281.65,294.96 282.00,294.35 282.35,293.82 282.70,293.37 283.05,293.02 283.40,292.77 283.75,292.63 284.10,292.61 284.45,292.71 284.80,292.95 285.15,293.31 285.50,293.78 285.85,294.36 286.20,295.02 286.55,295.75 286.90,296.53 287.25,297.35 287.60,298.19 287.95,299.02 288.30,299.84 288.65,300.63 289.00,301.39 289.35,302.09 289.70,302.75 290.05,303.34 290.40,303.88 290.75,304.35 291.10,304.77 291.45,305.13 291.80,305.44 292.15,305.71 292.50,305.91 292.85,305.92 293.20,305.93 293.55,305.94 293.90,305.95 294.25,305.96 294.60,305.97 294.95,305.98 295.30,305.99 295.65,306.00 296.00,306.01 296.35,306.01 296.70,306.02 297.05,306.03 297.40,306.04 297.75,306.05 298.10,306.06 298.45,306.06 298.80,306.07 299.15,306.08 299.50,306.09 299.85,306.09 300.20,306.10 300.55,306.11 300.90,306.11 301.25,306.12 301.60,306.13 301.95,306.13 302.30,306.14 302.65,306.15 303.00,306.15 303.35,306.16 303.70,306.16 304.05,306.17 304.40,306.18 304.75,306.18 305.10,306.19 305.45,306.19 305.80,306.20 306.15,306.20 306.50,306.21 306.85,306.21 307.20,306.22 307.55,306.22 307.90,306.23 308.25,306.23 308.60,306.24 308.95,306.24 309.30,306.25 309.65,306.25 310.00,306.25 310.35,306.26 310.70,306.26 311.05,306.27 311.40,306.27 311.75,306.28 312.10,306.28 312.45,306.28 312.80,306.29 313.15,306.29 313.50,306.29 313.85,306.30 314.20,306.30 314.55,306.30 314.90,306.31 315.25,306.31 315.60,306.31 315.95,306.32 316.30,306.32 316.65,306.32 317.00,306.33 317.35,306.33 317.70,306.33 318.05,306.34 318.40,306.34 318.75,306.34 319.10,306.34 319.45,306.35 319.80,306.35 320.15,306.35 320.50,306.35 320.85,306.36 321.20,306.36 321.55,306.36 321.90,306.36 321.90,306.80" fill="#000"/>
<line x1="265.90" y1="268.00" x2="321.90" y2="268.00" stroke="#222" stroke-width="0.9" />
<line x1="321.90" y1="268.00" x2="321.90" y2="306.80" stroke="#222" stroke-width="0.9" />
<line x1="265.90" y1="267.50" x2="265.90" y2="307.40" stroke="#000" stroke-width="1.4" />
<line x1="265.30" y1="306.80" x2="322.30" y2="306.80" stroke="#000" stroke-width="1.4" />
<line x1="264.50" y1="299.04" x2="265.90" y2="299.04" stroke="#333" stroke-width="0.6" />
<line x1="264.50" y1="291.28" x2="265.90" y2="291.28" stroke="#333" stroke-width="0.6" />
<line x1="264.50" y1="283.52" x2="265.90" y2="283.52" stroke="#333" stroke-width="0.6" />
<line x1="264.50" y1="275.76" x2="265.90" y2="275.76" stroke="#333" stroke-width="0.6" />
<text x="266.50" y="314.20" font-family='"Liberation Serif", serif' font-weight="normal" font-size="4.6" text-anchor="middle" fill="#222" >10<tspan font-size="3.2" dy="-1.8">0</tspan></text>
<line x1="270.10" y1="307.40" x2="270.10" y2="308.80" stroke="#666" stroke-width="0.5" />
<line x1="272.90" y1="307.40" x2="272.90" y2="308.80" stroke="#666" stroke-width="0.5" />
<line x1="275.70" y1="307.40" x2="275.70" y2="308.80" stroke="#666" stroke-width="0.5" />
<text x="280.50" y="314.20" font-family='"Liberation Serif", serif' font-weight="normal" font-size="4.6" text-anchor="middle" fill="#222" >10<tspan font-size="3.2" dy="-1.8">1</tspan></text>
<line x1="284.10" y1="307.40" x2="284.10" y2="308.80" stroke="#666" stroke-width="0.5" />
<line x1="286.90" y1="307.40" x2="286.90" y2="308.80" stroke="#666" stroke-width="0.5" />
<line x1="289.70" y1="307.40" x2="289.70" y2="308.80" stroke="#666" stroke-width="0.5" />
<text x="294.50" y="314.20" font-family='"Liberation Serif", serif' font-weight="normal" font-size="4.6" text-anchor="middle" fill="#222" >10<tspan font-size="3.2" dy="-1.8">2</tspan></text>
<line x1="298.10" y1="307.40" x2="298.10" y2="308.80" stroke="#666" stroke-width="0.5" />
<line x1="300.90" y1="307.40" x2="300.90" y2="308.80" stroke="#666" stroke-width="0.5" />
<line x1="303.70" y1="307.40" x2="303.70" y2="308.80" stroke="#666" stroke-width="0.5" />
<text x="308.50" y="314.20" font-family='"Liberation Serif", serif' font-weight="normal" font-size="4.6" text-anchor="middle" fill="#222" >10<tspan font-size="3.2" dy="-1.8">3</tspan></text>
<line x1="312.10" y1="307.40" x2="312.10" y2="308.80" stroke="#666" stroke-width="0.5" />
<line x1="314.90" y1="307.40" x2="314.90" y2="308.80" stroke="#666" stroke-width="0.5" />
<line x1="317.70" y1="307.40" x2="317.70" y2="308.80" stroke="#666" stroke-width="0.5" />
<text x="322.50" y="314.20" font-family='"Liberation Serif", serif' font-weight="normal" font-size="4.6" text-anchor="middle" fill="#222" >10<tspan font-size="3.2" dy="-1.8">4</tspan></text>
<text x="262.90" y="272.40" font-family='"Liberation Serif", serif' font-weight="normal" font-size="4.4" text-anchor="start" fill="#999" textLength="7.60" lengthAdjust="spacingAndGlyphs" transform="rotate(-90 262.90 272.40)" >200</text>
<text x="264.70" y="307.60" font-family='"Liberation Sans", sans-serif' font-weight="normal" font-size="3.2" text-anchor="end" fill="#444" >0</text>
<polygon points="330.90,306.80 330.90,305.90 331.24,305.90 331.58,305.90 331.92,305.90 332.26,305.90 332.60,305.90 332.94,305.90 333.28,305.90 333.61,305.90 333.95,305.90 334.29,305.90 334.63,305.90 334.97,305.90 335.31,305.90 335.65,305.90 335.99,305.90 336.33,305.90 336.67,305.90 337.01,305.90 337.35,305.90 337.69,305.90 338.03,305.90 338.37,305.90 338.71,305.90 339.04,305.90 339.38,305.90 339.72,305.90 340.06,305.90 340.40,305.90 340.74,305.90 341.08,305.90 341.42,305.90 341.76,305.90 342.10,305.90 342.44,305.90 342.78,305.90 343.12,305.90 343.46,305.90 343.80,305.90 344.14,305.90 344.47,305.90 344.81,305.90 345.15,305.90 345.49,305.90 345.83,305.90 346.17,305.90 346.51,305.58 346.85,305.15 347.19,304.62 347.53,303.96 347.87,303.17 348.21,302.24 348.55,301.16 348.89,299.95 349.23,298.61 349.57,297.18 349.90,295.70 350.24,294.20 350.58,292.73 350.92,291.37 351.26,290.15 351.60,289.15 351.94,288.40 352.28,287.94 352.62,287.80 352.96,287.96 353.30,288.38 353.64,289.06 353.98,289.97 354.32,291.06 354.66,292.29 355.00,293.62 355.33,295.01 355.67,296.40 356.01,297.76 356.35,299.06 356.69,300.27 357.03,301.37 357.37,302.35 357.71,303.21 358.05,303.94 358.39,304.56 358.73,305.07 359.07,305.48 359.41,305.81 359.75,305.87 360.09,305.88 360.43,305.89 360.76,305.90 361.10,305.91 361.44,305.92 361.78,305.93 362.12,305.94 362.46,305.95 362.80,305.96 363.14,305.97 363.48,305.98 363.82,305.99 364.16,306.00 364.50,306.00 364.84,306.01 365.18,306.02 365.52,306.03 365.86,306.04 366.19,306.04 366.53,306.05 366.87,306.06 367.21,306.07 367.55,306.07 367.89,306.08 368.23,306.09 368.57,306.10 368.91,306.10 369.25,306.11 369.59,306.12 369.93,306.12 370.27,306.13 370.61,306.13 370.95,306.14 371.29,306.15 371.62,306.15 371.96,306.16 372.30,306.16 372.64,306.17 372.98,306.18 373.32,306.18 373.66,306.19 374.00,306.19 374.34,306.20 374.68,306.20 375.02,306.21 375.36,306.21 375.70,306.22 376.04,306.22 376.38,306.23 376.72,306.23 377.06,306.24 377.39,306.24 377.73,306.24 378.07,306.25 378.41,306.25 378.75,306.26 379.09,306.26 379.43,306.26 379.77,306.27 380.11,306.27 380.45,306.28 380.79,306.28 381.13,306.28 381.47,306.29 381.81,306.29 382.15,306.29 382.49,306.30 382.82,306.30 383.16,306.30 383.50,306.31 383.84,306.31 384.18,306.31 384.52,306.32 384.86,306.32 385.20,306.32 385.20,306.80" fill="#000"/>
<line x1="330.90" y1="268.60" x2="385.20" y2="268.60" stroke="#222" stroke-width="0.9" />
<line x1="385.20" y1="268.60" x2="385.20" y2="306.80" stroke="#222" stroke-width="0.9" />
<line x1="330.90" y1="268.10" x2="330.90" y2="307.40" stroke="#000" stroke-width="1.4" />
<line x1="330.30" y1="306.80" x2="385.60" y2="306.80" stroke="#000" stroke-width="1.4" />
<line x1="329.50" y1="299.16" x2="330.90" y2="299.16" stroke="#333" stroke-width="0.6" />
<line x1="329.50" y1="291.52" x2="330.90" y2="291.52" stroke="#333" stroke-width="0.6" />
<line x1="329.50" y1="283.88" x2="330.90" y2="283.88" stroke="#333" stroke-width="0.6" />
<line x1="329.50" y1="276.24" x2="330.90" y2="276.24" stroke="#333" stroke-width="0.6" />
<text x="331.50" y="314.20" font-family='"Liberation Serif", serif' font-weight="normal" font-size="4.6" text-anchor="middle" fill="#222" >10<tspan font-size="3.2" dy="-1.8">0</tspan></text>
<line x1="334.97" y1="307.40" x2="334.97" y2="308.80" stroke="#666" stroke-width="0.5" />
<line x1="337.69" y1="307.40" x2="337.69" y2="308.80" stroke="#666" stroke-width="0.5" />
<line x1="340.40" y1="307.40" x2="340.40" y2="308.80" stroke="#666" stroke-width="0.5" />
<text x="345.07" y="314.20" font-family='"Liberation Serif", serif' font-weight="normal" font-size="4.6" text-anchor="middle" fill="#222" >10<tspan font-size="3.2" dy="-1.8">1</tspan></text>
<line x1="348.55" y1="307.40" x2="348.55" y2="308.80" stroke="#666" stroke-width="0.5" />
<line x1="351.26" y1="307.40" x2="351.26" y2="308.80" stroke="#666" stroke-width="0.5" />
<line x1="353.98" y1="307.40" x2="353.98" y2="308.80" stroke="#666" stroke-width="0.5" />
<text x="358.65" y="314.20" font-family='"Liberation Serif", serif' font-weight="normal" font-size="4.6" text-anchor="middle" fill="#222" >10<tspan font-size="3.2" dy="-1.8">2</tspan></text>
<line x1="362.12" y1="307.40" x2="362.12" y2="308.80" stroke="#666" stroke-width="0.5" />
<line x1="364.84" y1="307.40" x2="364.84" y2="308.80" stroke="#666" stroke-width="0.5" />
<line x1="367.55" y1="307.40" x2="367.55" y2="308.80" stroke="#666" stroke-width="0.5" />
<text x="372.23" y="314.20" font-family='"Liberation Serif", serif' font-weight="normal" font-size="4.6" text-anchor="middle" fill="#222" >10<tspan font-size="3.2" dy="-1.8">3</tspan></text>
<line x1="375.70" y1="307.40" x2="375.70" y2="308.80" stroke="#666" stroke-width="0.5" />
<line x1="378.41" y1="307.40" x2="378.41" y2="308.80" stroke="#666" stroke-width="0.5" />
<line x1="381.13" y1="307.40" x2="381.13" y2="308.80" stroke="#666" stroke-width="0.5" />
<text x="385.80" y="314.20" font-family='"Liberation Serif", serif' font-weight="normal" font-size="4.6" text-anchor="middle" fill="#222" >10<tspan font-size="3.2" dy="-1.8">4</tspan></text>
<text x="327.90" y="273.00" font-family='"Liberation Serif", serif' font-weight="normal" font-size="4.4" text-anchor="start" fill="#999" textLength="7.60" lengthAdjust="spacingAndGlyphs" transform="rotate(-90 327.90 273.00)" >200</text>
<text x="329.70" y="307.60" font-family='"Liberation Sans", sans-serif' font-weight="normal" font-size="3.2" text-anchor="end" fill="#444" >0</text>
<line x1="215.20" y1="226.00" x2="215.20" y2="318.80" stroke="#000" stroke-width="1.0" />
<line x1="288.40" y1="226.00" x2="288.40" y2="316.80" stroke="#000" stroke-width="1.0" />
<line x1="356.70" y1="226.00" x2="356.70" y2="316.80" stroke="#000" stroke-width="1.0" />
<text x="219.50" y="322.30" font-family='"Liberation Sans", sans-serif' font-weight="bold" font-size="5.6" text-anchor="start" fill="#111" textLength="15.60" lengthAdjust="spacingAndGlyphs" >FL1-H</text>
<text x="283.50" y="322.30" font-family='"Liberation Sans", sans-serif' font-weight="bold" font-size="5.6" text-anchor="start" fill="#111" textLength="15.60" lengthAdjust="spacingAndGlyphs" >FL1-H</text>
<text x="348.50" y="322.30" font-family='"Liberation Sans", sans-serif' font-weight="bold" font-size="5.6" text-anchor="start" fill="#111" textLength="15.60" lengthAdjust="spacingAndGlyphs" >FL1-H</text>
<text x="185.70" y="241.90" font-family='"Liberation Serif", serif' font-weight="bold" font-size="8.2" text-anchor="start" fill="#000" textLength="19.60" lengthAdjust="spacingAndGlyphs" transform="rotate(-90 185.70 241.90)" >RV5</text>
<text x="192.90" y="242.40" font-family='"Liberation Sans", sans-serif' font-weight="bold" font-size="6.0" text-anchor="start" fill="#000" textLength="22.20" lengthAdjust="spacingAndGlyphs" transform="rotate(-90 192.90 242.40)" >Counts</text>
<text x="185.70" y="296.00" font-family='"Liberation Serif", serif' font-weight="bold" font-size="8.2" text-anchor="start" fill="#000" textLength="19.00" lengthAdjust="spacingAndGlyphs" transform="rotate(-90 185.70 296.00)" >RG1</text>
<text x="194.20" y="297.20" font-family='"Liberation Sans", sans-serif' font-weight="bold" font-size="6.0" text-anchor="start" fill="#000" textLength="22.60" lengthAdjust="spacingAndGlyphs" transform="rotate(-90 194.20 297.20)" >Counts</text>
<text x="175.20" y="335.00" font-family='"Liberation Serif", serif' font-weight="bold" font-size="10.0" text-anchor="start" fill="#000" >H<tspan font-size="7" dy="2.8">2</tspan><tspan dy="-2.8">O</tspan><tspan font-size="7" dy="2.8">2</tspan></text>
<text x="223.00" y="335.00" font-family='"Liberation Serif", serif' font-weight="bold" font-size="10.0" text-anchor="middle" fill="#000" textLength="23.20" lengthAdjust="spacingAndGlyphs" >0 μM</text>
<text x="299.40" y="335.00" font-family='"Liberation Serif", serif' font-weight="bold" font-size="10.0" text-anchor="middle" fill="#000" textLength="33.40" lengthAdjust="spacingAndGlyphs" >200 μM</text>
<text x="365.50" y="335.00" font-family='"Liberation Serif", serif' font-weight="bold" font-size="10.0" text-anchor="middle" fill="#000" textLength="33.40" lengthAdjust="spacingAndGlyphs" >500 μM</text>
</svg>
</body></html>
